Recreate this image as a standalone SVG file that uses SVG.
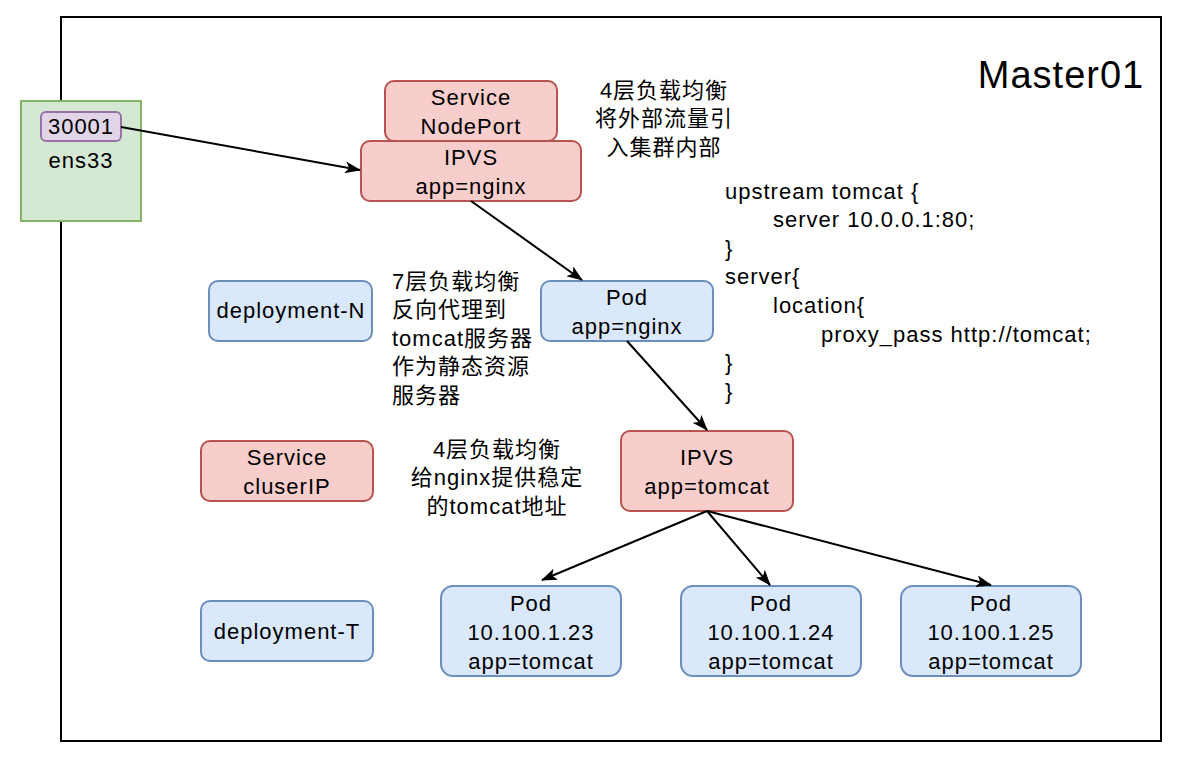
<svg xmlns="http://www.w3.org/2000/svg" width="1182" height="762" viewBox="0 0 1182 762">
<defs>
<marker id="arr" viewBox="0 0 16 12" refX="15" refY="6" markerWidth="16" markerHeight="12" markerUnits="userSpaceOnUse" orient="auto">
<path d="M0,0 L16,6 L0,12 L4,6 Z" fill="#000"/>
</marker>
</defs>
<style>
text{font-family:"Liberation Sans","Noto Sans CJK SC",sans-serif;font-size:22px;letter-spacing:1px;fill:#000}
.c{text-anchor:middle}
.red{fill:#f8cecc;stroke:#b85450;stroke-width:2}
.blue{fill:#dae8fc;stroke:#6c8ebf;stroke-width:2}
.green{fill:#d5e8d4;stroke:#82b366;stroke-width:2}
.purple{fill:#e1d5e7;stroke:#9673a6;stroke-width:2}
.edge{fill:none;stroke:#000;stroke-width:2;marker-end:url(#arr)}
</style>
<rect width="1182" height="762" fill="#fff"/>
<g id="master01">
<rect x="61" y="17" width="1100" height="724" fill="#fff" stroke="#000" stroke-width="2"/>
<text x="1061" y="88" class="c" style="font-size:38px">Master01</text>
</g>
<g id="ens33">
<rect class="green" x="21" y="101" width="120" height="120"/>
<text x="81" y="168" class="c">ens33</text>
</g>
<g id="port30001">
<rect class="purple" x="41" y="112" width="80" height="29" rx="5"/>
<text x="81" y="134" class="c">30001</text>
</g>
<g id="svc-nodeport">
<rect class="red" x="385" y="81" width="172" height="60" rx="9"/>
<text x="471" y="105" class="c">Service</text>
<text x="471" y="134" class="c">NodePort</text>
</g>
<g id="ipvs-nginx">
<rect class="red" x="361" y="141" width="220" height="60" rx="9"/>
<text x="471" y="165" class="c">IPVS</text>
<text x="471" y="194" class="c">app=nginx</text>
</g>
<g id="note-l4-nodeport">
<text x="664" y="98" class="c">4层负载均衡</text>
<text x="664" y="126" class="c">将外部流量引</text>
<text x="664" y="155" class="c">入集群内部</text>
</g>
<g id="note-nginx-conf">
<text x="725" y="199">upstream tomcat {</text>
<text x="773" y="227">server 10.0.0.1:80;</text>
<text x="725" y="256">}</text>
<text x="725" y="284">server{</text>
<text x="773" y="313">location{</text>
<text x="821" y="342">proxy_pass http://tomcat;</text>
<text x="725" y="370">}</text>
<text x="725" y="399">}</text>
</g>
<g id="deployment-n">
<rect class="blue" x="209" y="281" width="163" height="60" rx="9"/>
<text x="291" y="318" class="c">deployment-N</text>
</g>
<g id="note-l7">
<text x="392" y="289">7层负载均衡</text>
<text x="392" y="317">反向代理到</text>
<text x="392" y="346">tomcat服务器</text>
<text x="392" y="374">作为静态资源</text>
<text x="392" y="403">服务器</text>
</g>
<g id="pod-nginx">
<rect class="blue" x="541" y="281" width="172" height="60" rx="9"/>
<text x="627" y="305" class="c">Pod</text>
<text x="627" y="334" class="c">app=nginx</text>
</g>
<g id="svc-clusterip">
<rect class="red" x="201" y="441" width="172" height="60" rx="9"/>
<text x="287" y="465" class="c">Service</text>
<text x="287" y="494" class="c">cluserIP</text>
</g>
<g id="note-l4-clusterip">
<text x="497" y="457" class="c">4层负载均衡</text>
<text x="497" y="485" class="c">给nginx提供稳定</text>
<text x="497" y="514" class="c">的tomcat地址</text>
</g>
<g id="ipvs-tomcat">
<rect class="red" x="621" y="431" width="172" height="80" rx="9"/>
<text x="707" y="465" class="c">IPVS</text>
<text x="707" y="494" class="c">app=tomcat</text>
</g>
<g id="deployment-t">
<rect class="blue" x="201" y="601" width="172" height="60" rx="9"/>
<text x="287" y="639" class="c">deployment-T</text>
</g>
<g id="pod-tomcat-1">
<rect class="blue" x="441" y="586" width="180" height="90" rx="12"/>
<text x="531" y="611" class="c">Pod</text>
<text x="531" y="640" class="c">10.100.1.23</text>
<text x="531" y="669" class="c">app=tomcat</text>
</g>
<g id="pod-tomcat-2">
<rect class="blue" x="681" y="586" width="180" height="90" rx="12"/>
<text x="771" y="611" class="c">Pod</text>
<text x="771" y="640" class="c">10.100.1.24</text>
<text x="771" y="669" class="c">app=tomcat</text>
</g>
<g id="pod-tomcat-3">
<rect class="blue" x="901" y="586" width="180" height="90" rx="12"/>
<text x="991" y="611" class="c">Pod</text>
<text x="991" y="640" class="c">10.100.1.25</text>
<text x="991" y="669" class="c">app=tomcat</text>
</g>
<g id="connectors">
<path class="edge" d="M121,127 L360,170"/>
<path class="edge" d="M471,201 L582,280"/>
<path class="edge" d="M627,341 L707,430"/>
<path class="edge" d="M707,511 L542,580"/>
<path class="edge" d="M707,511 L770,585"/>
<path class="edge" d="M707,511 L991,585"/>
</g>
</svg>
